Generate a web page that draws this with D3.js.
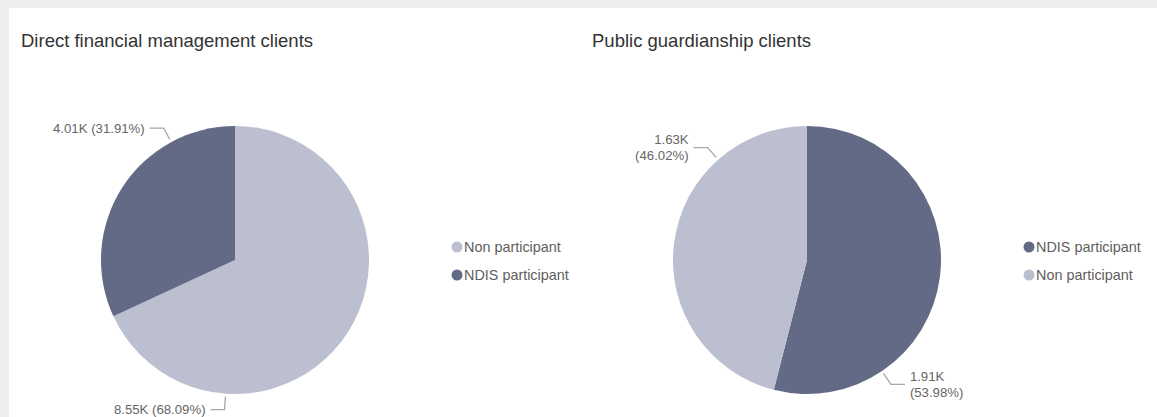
<!DOCTYPE html>
<html>
<head>
<meta charset="utf-8">
<script src="https://cdn.jsdelivr.net/npm/d3@7"></script>
<style>
  html, body { margin: 0; padding: 0; background: #eeeeee; }
  svg { display: block; font-family: "Liberation Sans", Arial, sans-serif; }
</style>
</head>
<body>
<svg id="chart" width="1157" height="417"></svg>
<script>
// Client counts split by NDIS participation
const chartTitles = ["Direct financial management clients", "Public guardianship clients"];
const leftCategories = ["Non participant", "NDIS participant"];
const leftValues = [8553, 4008];
const rightCategories = ["NDIS participant", "Non participant"];
const rightValues = [1912, 1630];

const colour = d3.scaleOrdinal()
  .domain(["NDIS participant", "Non participant"])
  .range(["#636a85", "#bcbfcf"]);

const svg = d3.select("#chart");
const W = 1157, H = 417;

svg.append("rect").attr("width", W).attr("height", H).attr("fill", "#eeeeee");
svg.append("rect").attr("x", 9).attr("y", 8).attr("width", W - 9).attr("height", H - 8).attr("fill", "#ffffff");

const fmtK = v => d3.format(".3s")(v).replace("k", "K");
const deg = d => d * Math.PI / 180;

// per-panel layout: pie centre, legend position, where each label's leader leaves the rim
const panels = [
  {
    title: chartTitles[0], categories: leftCategories, values: leftValues,
    titleX: 21, cx: 235, cy: 260, legendX: 457, wrap: false,
    labelAngles: [deg(184), deg(331.6)]
  },
  {
    title: chartTitles[1], categories: rightCategories, values: rightValues,
    titleX: 592, cx: 807, cy: 260, legendX: 1029, wrap: true,
    labelAngles: [deg(146), deg(318.5)]
  }
];

const radius = 134;
const arc = d3.arc().innerRadius(0).outerRadius(radius);
const pie = d3.pie().sort(null).value(d => d.value).startAngle(0).endAngle(2 * Math.PI);

panels.forEach(p => {
  const data = p.categories.map((c, i) => ({ category: c, value: p.values[i] }));
  const total = d3.sum(p.values);
  const arcs = pie(data);

  svg.append("text")
    .attr("x", p.titleX).attr("y", 47)
    .attr("font-size", 18.5).attr("fill", "#333333")
    .text(p.title);

  const g = svg.append("g").attr("transform", `translate(${p.cx},${p.cy})`);

  g.selectAll("path.slice").data(arcs).join("path")
    .attr("class", "slice")
    .attr("d", arc)
    .attr("fill", d => colour(d.data.category));

  // outside labels with elbow leader lines
  arcs.forEach((a, i) => {
    const ang = p.labelAngles[i];
    const ux = Math.sin(ang), uy = -Math.cos(ang);
    const r0 = radius + 3, r1 = radius + 16;
    const x0 = r0 * ux, y0 = r0 * uy;
    const x1 = r1 * ux, y1 = r1 * uy;
    const side = ux >= 0 ? 1 : -1;
    const x2 = x1 + side * 14;

    g.append("path")
      .attr("d", `M${x0},${y0}L${x1},${y1}L${x2},${y1}`)
      .attr("fill", "none").attr("stroke", "#a6a6a6").attr("stroke-width", 1.3);

    const valueText = fmtK(a.data.value);
    const pctText = "(" + (a.data.value / total * 100).toFixed(2) + "%)";
    const t = g.append("text")
      .attr("x", x2 + side * 5)
      .attr("text-anchor", side > 0 ? "start" : "end")
      .attr("font-size", 13.2).attr("fill", "#666666");
    if (p.wrap) {
      t.append("tspan").attr("x", x2 + side * 5).attr("y", y1 - 3.5).text(valueText);
      t.append("tspan").attr("x", x2 + side * 5).attr("y", y1 + 12.5).text(pctText);
    } else {
      t.attr("y", y1 + 4.5).text(valueText + " " + pctText);
    }
  });

  // legend
  const lg = svg.append("g").attr("transform", `translate(${p.legendX},247)`);
  const items = lg.selectAll("g").data(p.categories).join("g")
    .attr("transform", (d, i) => `translate(0,${i * 28})`);
  items.append("circle").attr("r", 5.5).attr("fill", d => colour(d));
  items.append("text").attr("x", 7).attr("y", 5)
    .attr("font-size", 14.4).attr("fill", "#605e5c").text(d => d);
});
</script>
</body>
</html>
